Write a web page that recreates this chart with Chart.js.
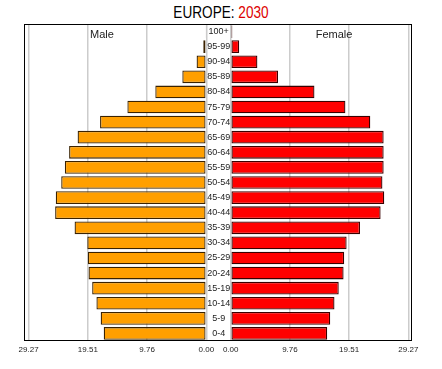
<!DOCTYPE html>
<html>
<head>
<meta charset="utf-8">
<script src="https://cdn.jsdelivr.net/npm/chart.js@4/dist/chart.umd.min.js"></script>
<style>
  body { margin: 0; background: #fff; font-family: "Liberation Sans", Arial, sans-serif; }
  #wrap { position: relative; width: 442px; height: 369px; overflow: hidden; }
  canvas { position: absolute; top: 0; }
  #maleChart { left: 0; }
  #femaleChart { left: 200px; }
  #title { position: absolute; left: 0; width: 442px; top: 3px; text-align: center; font-size: 17px; transform: scaleX(0.8); color: #000; }
  #title span { color: #dd0000; }
  #frame { position: absolute; left: 24px; top: 24px; width: 388px; height: 317px; box-sizing: border-box; border: 1px solid #000; pointer-events: none; }
  .side { position: absolute; top: 28px; font-size: 11px; color: #222; transform: translateX(-50%); }
</style>
</head>
<body>
<div id="wrap">
  <div id="title">EUROPE: <span>2030</span></div>
  <canvas id="maleChart" width="215" height="369"></canvas>
  <canvas id="femaleChart" width="242" height="369"></canvas>
  <div id="frame"></div>
  <div class="side" style="left:102px">Male</div>
  <div class="side" style="left:334px">Female</div>
</div>
<script>
// Age groups, youngest first (drawn bottom to top)
const ageGroups = ["0-4", "5-9", "10-14", "15-19", "20-24", "25-29", "30-34", "35-39", "40-44", "45-49",
  "50-54", "55-59", "60-64", "65-69", "70-74", "75-79", "80-84", "85-89", "90-94", "95-99", "100+"];
const maleValues = [16.9, 17.4, 18.1, 18.8, 19.4, 19.5, 19.6, 21.7, 24.9, 24.8,
  23.9, 23.3, 22.6, 21.2, 17.5, 13.0, 8.4, 3.95, 1.6, 0.5, 0.15];
const femaleValues = [15.9, 16.4, 17.1, 17.8, 18.6, 18.7, 19.1, 21.3, 24.7, 25.3,
  25.0, 25.2, 25.2, 25.2, 23.0, 18.9, 13.8, 7.8, 4.4, 1.4, 0.27];
const axisTicks = [0, 9.76, 19.51, 29.27];

const gridColor = "#cccccc";

function xAxis(max, reverse) {
  return {
    type: "linear",
    min: 0,
    max: max,
    reverse: reverse,
    afterBuildTicks: function (scale) {
      scale.ticks = axisTicks.map((v) => ({ value: v }));
    },
    afterFit: function (scale) {
      scale.height = 28;
    },
    grid: { color: gridColor, lineWidth: 1.5, drawTicks: false },
    border: { display: false },
    ticks: {
      autoSkip: false,
      maxRotation: 0,
      padding: 4,
      color: "#222",
      font: { family: "Liberation Sans", size: 8 },
      callback: function (value) {
        return Number(value).toFixed(2);
      },
    },
  };
}

// Male side (axis runs right to left)
const maleChart = new Chart(document.getElementById("maleChart"), {
  type: "bar",
  data: {
    labels: ageGroups,
    datasets: [
      {
        label: "Male",
        data: maleValues,
        backgroundColor: "#ff9f00",
        borderColor: "#3a2200",
        borderWidth: 1.3,
        borderSkipped: false,
        barPercentage: 0.84,
        categoryPercentage: 1,
      },
    ],
  },
  options: {
    indexAxis: "y",
    responsive: false,
    animation: false,
    devicePixelRatio: 1,
    layout: { padding: { left: 24, right: 8.7, top: 24, bottom: 0 } },
    plugins: { legend: { display: false }, tooltip: { enabled: false } },
    scales: {
      x: xAxis(30.03, true),
      y: { reverse: true, display: false },
    },
  },
});

// Female side, age labels sit in the gap on its left
const femaleChart = new Chart(document.getElementById("femaleChart"), {
  type: "bar",
  data: {
    labels: ageGroups,
    datasets: [
      {
        label: "Female",
        data: femaleValues,
        backgroundColor: "#ff0000",
        borderColor: "#3a0000",
        borderWidth: 1.3,
        borderSkipped: false,
        barPercentage: 0.84,
        categoryPercentage: 1,
      },
    ],
  },
  options: {
    indexAxis: "y",
    responsive: false,
    animation: false,
    devicePixelRatio: 1,
    layout: { padding: { left: 0, right: 30, top: 24, bottom: 0 } },
    plugins: { legend: { display: false }, tooltip: { enabled: false } },
    scales: {
      x: xAxis(29.87, false),
      y: {
        reverse: true,
        afterFit: function (scale) {
          scale.width = 30.7;
        },
        grid: { display: false, drawTicks: false },
        border: { display: false },
        ticks: {
          crossAlign: "center",
          padding: 0.5,
          color: "#222",
          font: { family: "Liberation Sans", size: 9 },
        },
      },
    },
  },
});
</script>
</body>
</html>
